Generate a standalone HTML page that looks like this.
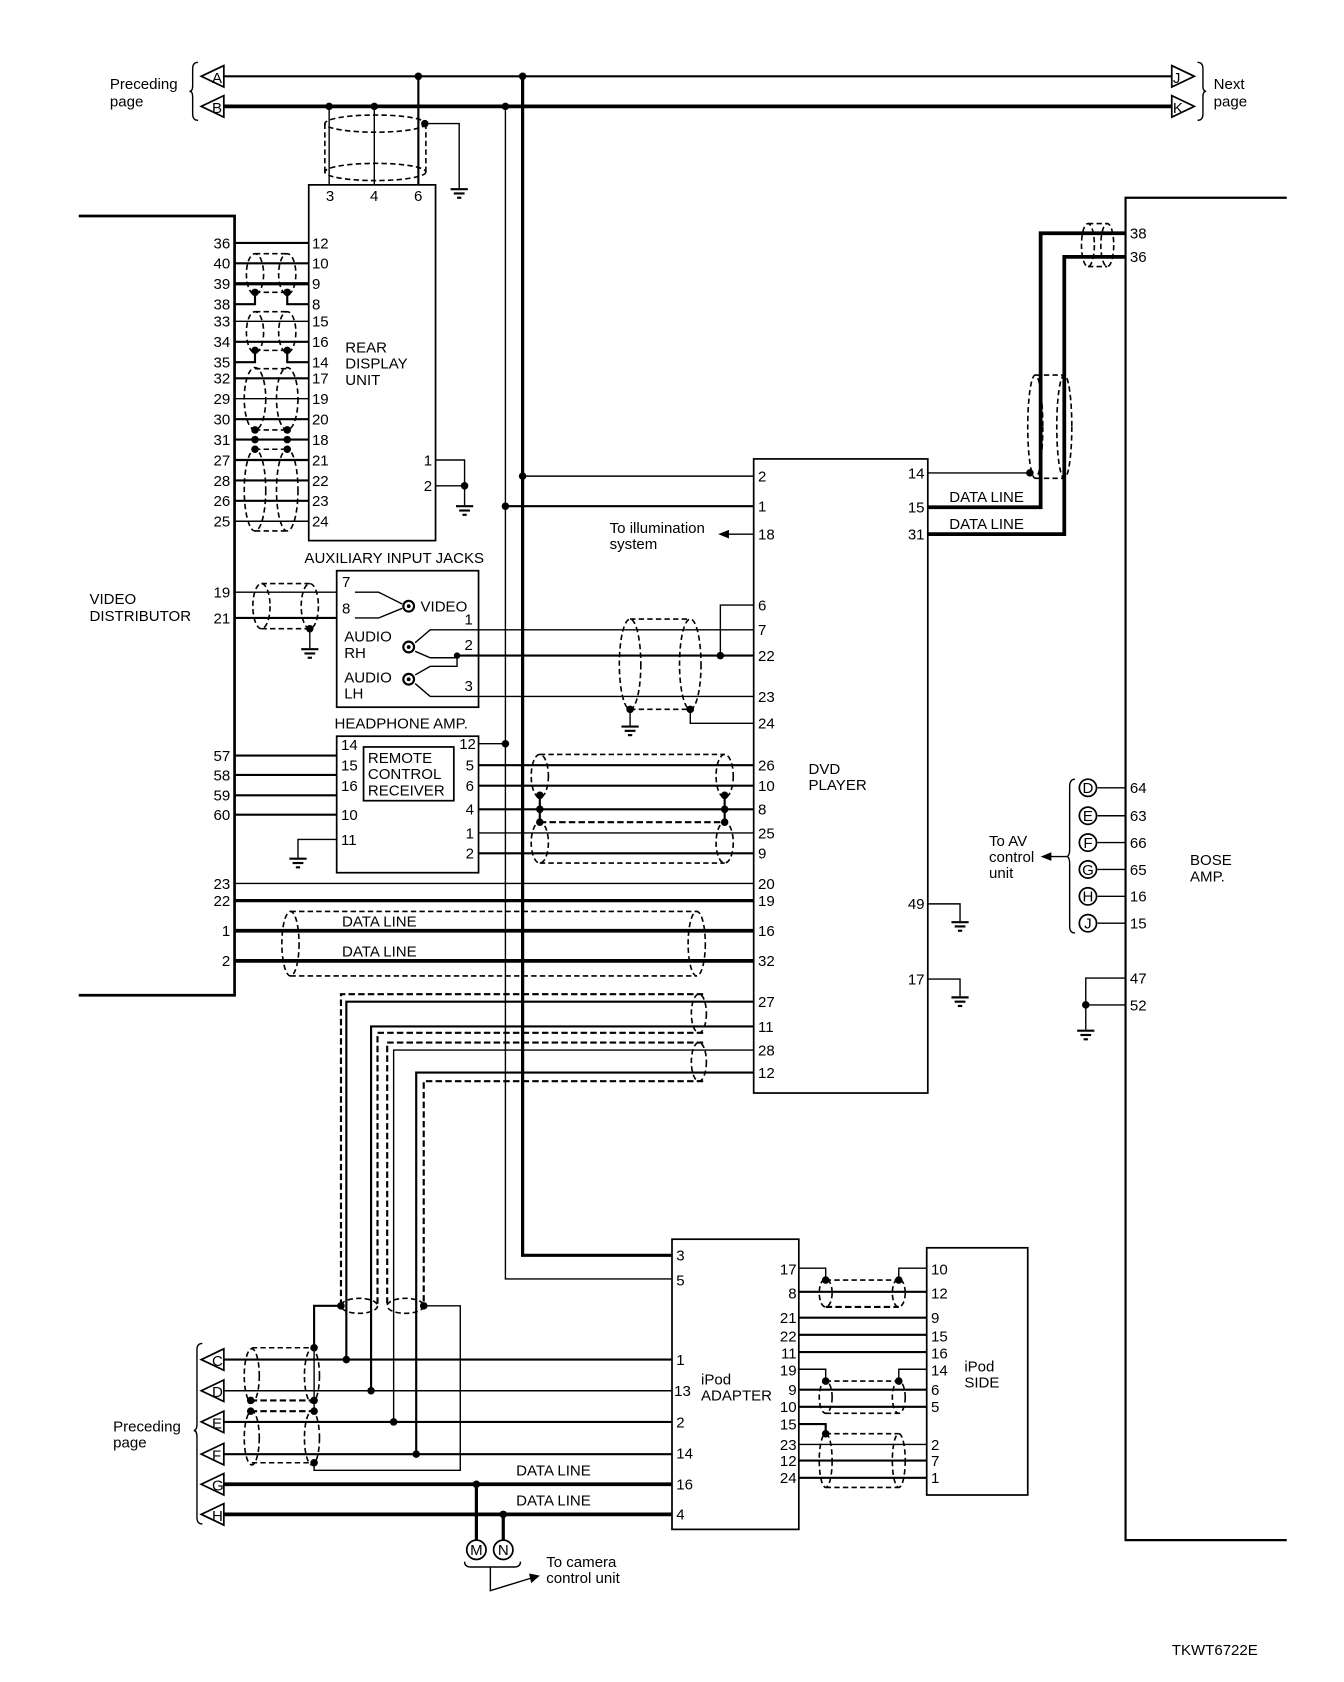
<!DOCTYPE html>
<html><head><meta charset="utf-8"><style>
html,body{margin:0;padding:0;background:#fff}
svg{display:block}
text{font-family:"Liberation Sans",Arial,sans-serif;font-size:14px;fill:#000}
.t{stroke:#000;stroke-width:1.3;fill:none}
.m{stroke:#000;stroke-width:2;fill:none}
.k{stroke:#000;stroke-width:3.5;fill:none}
.d{stroke:#000;stroke-width:1.5;fill:none;stroke-dasharray:5,3}
.dd{stroke:#000;stroke-width:2;fill:none;stroke-dasharray:6,3}
.b{stroke:#000;stroke-width:1.6;fill:#fff}
</style></head><body>
<svg width="1344" height="1682" viewBox="0 0 1250 1565" xmlns="http://www.w3.org/2000/svg">
<defs>
<g id="gnd"><line x1="-8" y1="0" x2="8" y2="0" class="m"/><line x1="-5" y1="4" x2="5" y2="4" class="m"/><line x1="-2" y1="8" x2="2" y2="8" class="m"/></g>
</defs>

<!-- top buses -->
<line x1="208" y1="71" x2="1090" y2="71" class="m"/>
<line x1="208" y1="99" x2="1090" y2="99" class="k"/>
<path d="M208,61 L187,71 L208,81 Z" class="b"/><text x="197" y="77" font-size="13">A</text>
<path d="M208,89 L187,99 L208,109 Z" class="b"/><text x="197" y="105" font-size="13">B</text>
<path d="M184,58 Q179,58 179,64 L179,80 Q179,85 176,85 Q179,85 179,90 L179,106 Q179,112 184,112" class="t"/>
<text x="102" y="83">Preceding</text><text x="102" y="99">page</text>
<path d="M1090,61 L1111,71 L1090,81 Z" class="b"/><text x="1091" y="77" font-size="13">J</text>
<path d="M1090,89 L1111,99 L1090,109 Z" class="b"/><text x="1091" y="105" font-size="13">K</text>
<path d="M1114,58 Q1119,58 1119,64 L1119,80 Q1119,85 1122,85 Q1119,85 1119,90 L1119,106 Q1119,112 1114,112" class="t"/>
<text x="1129" y="83">Next</text><text x="1129" y="99">page</text>

<!-- drops to rear display -->
<line x1="306" y1="99" x2="306" y2="172" class="t"/>
<line x1="348" y1="99" x2="348" y2="172" class="t"/>
<line x1="389" y1="71" x2="389" y2="172" class="m"/>
<circle cx="306" cy="99" r="3.5"/><circle cx="348" cy="99" r="3.5"/><circle cx="389" cy="71" r="3.5"/>
<ellipse cx="349" cy="115" rx="47" ry="8" class="d"/>
<ellipse cx="349" cy="160" rx="47" ry="8" class="d"/>
<line x1="302" y1="115" x2="302" y2="160" class="d"/><line x1="396" y1="115" x2="396" y2="160" class="d"/>
<circle cx="395" cy="115" r="3.5"/>
<polyline points="395,115 427,115 427,175" class="t"/>
<use href="#gnd" x="427" y="176"/>

<!-- long verticals -->
<polyline points="486,71 486,1168 625,1168" class="k" style="stroke-width:3"/>
<circle cx="486" cy="71" r="3.5"/>
<polyline points="470,99 470,1190 625,1190" class="t"/>
<circle cx="470" cy="99" r="3.5"/>
<line x1="486" y1="443" x2="701" y2="443" class="t"/><circle cx="486" cy="443" r="3.5"/>
<line x1="470" y1="471" x2="701" y2="471" class="m"/><circle cx="470" cy="471" r="3.5"/>

<!-- video distributor -->
<polyline points="73,201 218,201 218,926 73,926" class="k" style="stroke-width:2.5"/>
<text x="83" y="562">VIDEO</text><text x="83" y="578">DISTRIBUTOR</text>

<!-- rear display unit -->
<rect x="287" y="172" width="118" height="331" class="b"/>
<text x="303" y="187">3</text><text x="344" y="187">4</text><text x="385" y="187">6</text>
<text x="321" y="328">REAR</text><text x="321" y="343">DISPLAY</text><text x="321" y="358">UNIT</text>
<g text-anchor="end">
<text x="214" y="231">36</text><text x="214" y="250">40</text><text x="214" y="269">39</text><text x="214" y="288">38</text>
<text x="214" y="304">33</text><text x="214" y="323">34</text><text x="214" y="342">35</text><text x="214" y="357">32</text>
<text x="214" y="376">29</text><text x="214" y="395">30</text><text x="214" y="414">31</text><text x="214" y="433">27</text>
<text x="214" y="452">28</text><text x="214" y="471">26</text><text x="214" y="490">25</text>
</g>
<g>
<text x="290" y="231">12</text><text x="290" y="250">10</text><text x="290" y="269">9</text><text x="290" y="288">8</text>
<text x="290" y="304">15</text><text x="290" y="323">16</text><text x="290" y="342">14</text><text x="290" y="357">17</text>
<text x="290" y="376">19</text><text x="290" y="395">20</text><text x="290" y="414">18</text><text x="290" y="433">21</text>
<text x="290" y="452">22</text><text x="290" y="471">23</text><text x="290" y="490">24</text>
</g>
<line x1="218" y1="226" x2="287" y2="226" class="m"/>
<line x1="218" y1="245" x2="287" y2="245" class="m"/>
<line x1="218" y1="264" x2="287" y2="264" class="k" style="stroke-width:3"/>
<polyline points="218,283 237,283 237,272" class="m"/><polyline points="287,283 267,283 267,272" class="m"/>
<line x1="218" y1="299" x2="287" y2="299" class="t"/>
<line x1="218" y1="318" x2="287" y2="318" class="m"/>
<polyline points="218,337 237,337 237,326" class="m"/><polyline points="287,337 267,337 267,326" class="m"/>
<line x1="218" y1="352" x2="287" y2="352" class="m"/>
<line x1="218" y1="371" x2="287" y2="371" class="t"/>
<line x1="218" y1="390" x2="287" y2="390" class="m"/>
<line x1="218" y1="409" x2="287" y2="409" class="m"/>
<line x1="218" y1="428" x2="287" y2="428" class="m"/>
<line x1="218" y1="447" x2="287" y2="447" class="m"/>
<line x1="218" y1="466" x2="287" y2="466" class="m"/>
<line x1="218" y1="485" x2="287" y2="485" class="t"/>
<ellipse cx="237" cy="255" rx="8" ry="19" class="d"/><ellipse cx="267" cy="255" rx="8" ry="19" class="d"/>
<line x1="237" y1="236" x2="267" y2="236" class="d"/><line x1="237" y1="272" x2="267" y2="272" class="d"/>
<ellipse cx="237" cy="309" rx="8" ry="19" class="d"/><ellipse cx="267" cy="309" rx="8" ry="19" class="d"/>
<line x1="237" y1="290" x2="267" y2="290" class="d"/><line x1="237" y1="326" x2="267" y2="326" class="d"/>
<ellipse cx="237" cy="371" rx="10" ry="29" class="d"/><ellipse cx="267" cy="371" rx="10" ry="29" class="d"/>
<line x1="237" y1="343" x2="267" y2="343" class="d"/><line x1="237" y1="400" x2="267" y2="400" class="d"/>
<ellipse cx="237" cy="456" rx="10" ry="38" class="d"/><ellipse cx="267" cy="456" rx="10" ry="38" class="d"/>
<line x1="237" y1="418" x2="267" y2="418" class="d"/><line x1="237" y1="494" x2="267" y2="494" class="d"/>
<g>
<circle cx="237" cy="272" r="3.5"/><circle cx="267" cy="272" r="3.5"/>
<circle cx="237" cy="326" r="3.5"/><circle cx="267" cy="326" r="3.5"/>
<circle cx="237" cy="400" r="3.5"/><circle cx="267" cy="400" r="3.5"/>
<circle cx="237" cy="409" r="3.5"/><circle cx="267" cy="409" r="3.5"/>
<circle cx="237" cy="418" r="3.5"/><circle cx="267" cy="418" r="3.5"/>
</g>
<text x="394" y="433">1</text><text x="394" y="457">2</text>
<polyline points="405,428 432,428 432,470" class="t"/><line x1="405" y1="452" x2="432" y2="452" class="t"/>
<circle cx="432" cy="452" r="3.5"/><use href="#gnd" x="432" y="471"/>

<!-- aux input jacks -->
<text x="283" y="524">AUXILIARY INPUT JACKS</text>
<rect x="313" y="531" width="132" height="127" class="b"/>
<text x="318" y="546">7</text><text x="318" y="571">8</text>
<polyline points="330,551 352,551 374,562" class="t"/><polyline points="330,575 352,575 374,566" class="t"/>
<circle cx="380" cy="564" r="5" class="m"/><circle cx="380" cy="564" r="1.8"/>
<text x="391" y="569">VIDEO</text>
<text x="320" y="597">AUDIO</text><text x="320" y="612">RH</text>
<circle cx="380" cy="602" r="5" class="m"/><circle cx="380" cy="602" r="1.8"/>
<text x="320" y="635">AUDIO</text><text x="320" y="650">LH</text>
<circle cx="380" cy="632" r="5" class="m"/><circle cx="380" cy="632" r="1.8"/>
<text x="432" y="581">1</text><text x="432" y="605">2</text><text x="432" y="643">3</text>
<polyline points="386,598 400,586 445,586" class="t"/>
<polyline points="386,606 400,612 425,612 425,610" class="t"/>
<polyline points="386,628 400,620 425,620 425,610" class="t"/>
<circle cx="425" cy="610" r="3"/>
<polyline points="386,636 400,648 445,648" class="t"/>
<line x1="445" y1="586" x2="701" y2="586" class="t"/>
<line x1="425" y1="610" x2="701" y2="610" class="m"/>
<line x1="445" y1="648" x2="701" y2="648" class="t"/>
<polyline points="701,563 670,563 670,610" class="t"/><circle cx="670" cy="610" r="3.5"/>
<polyline points="701,673 642,673 642,660" class="t"/>
<ellipse cx="586" cy="618" rx="10" ry="42" class="d"/><ellipse cx="642" cy="618" rx="10" ry="42" class="d"/>
<line x1="586" y1="576" x2="642" y2="576" class="d"/><line x1="586" y1="660" x2="642" y2="660" class="d"/>
<circle cx="586" cy="660" r="3.5"/><circle cx="642" cy="660" r="3.5"/>
<line x1="586" y1="660" x2="586" y2="675" class="t"/><use href="#gnd" x="586" y="676"/>
<!-- 19 / 21 -->
<g text-anchor="end"><text x="214" y="556">19</text><text x="214" y="580">21</text></g>
<line x1="218" y1="551" x2="313" y2="551" class="t"/><line x1="218" y1="575" x2="313" y2="575" class="m"/>
<ellipse cx="243" cy="564" rx="8" ry="21" class="d"/><ellipse cx="288" cy="564" rx="8" ry="21" class="d"/>
<line x1="243" y1="543" x2="288" y2="543" class="d"/><line x1="243" y1="585" x2="288" y2="585" class="d"/>
<circle cx="288" cy="585" r="3.5"/><line x1="288" y1="585" x2="288" y2="603" class="t"/><use href="#gnd" x="288" y="604"/>

<!-- headphone amp -->
<text x="311" y="678">HEADPHONE AMP.</text>
<rect x="313" y="685" width="132" height="127" class="b"/>
<rect x="338" y="695" width="84" height="50" class="b"/>
<text x="342" y="710">REMOTE</text><text x="342" y="725">CONTROL</text><text x="342" y="740">RECEIVER</text>
<text x="317" y="698">14</text><text x="317" y="717">15</text><text x="317" y="736">16</text><text x="317" y="763">10</text><text x="317" y="786">11</text>
<g text-anchor="end"><text x="214" y="708">57</text><text x="214" y="726">58</text><text x="214" y="745">59</text><text x="214" y="763">60</text></g>
<line x1="218" y1="703" x2="313" y2="703" class="m"/><line x1="218" y1="721" x2="313" y2="721" class="m"/>
<line x1="218" y1="740" x2="313" y2="740" class="m"/><line x1="218" y1="758" x2="313" y2="758" class="m"/>
<polyline points="313,781 277,781 277,798" class="t"/><use href="#gnd" x="277" y="799"/>
<text x="427" y="697">12</text><text x="433" y="717">5</text><text x="433" y="736">6</text><text x="433" y="758">4</text><text x="433" y="780">1</text><text x="433" y="799">2</text>
<line x1="445" y1="692" x2="470" y2="692" class="t"/><circle cx="470" cy="692" r="3.5"/>
<line x1="445" y1="712" x2="701" y2="712" class="m"/>
<line x1="445" y1="731" x2="701" y2="731" class="m"/>
<line x1="445" y1="753" x2="701" y2="753" class="m"/>
<line x1="445" y1="775" x2="701" y2="775" class="t"/>
<line x1="445" y1="794" x2="701" y2="794" class="m"/>
<ellipse cx="502" cy="722" rx="8" ry="20" class="d"/><ellipse cx="674" cy="722" rx="8" ry="20" class="d"/>
<line x1="502" y1="702" x2="674" y2="702" class="d"/>
<ellipse cx="502" cy="784" rx="8" ry="19" class="d"/><ellipse cx="674" cy="784" rx="8" ry="19" class="d"/>
<line x1="502" y1="803" x2="674" y2="803" class="d"/>
<line x1="502" y1="765" x2="674" y2="765" class="dd"/>
<polyline points="502,740 502,765" class="m"/><polyline points="674,740 674,765" class="m"/>
<circle cx="502" cy="740" r="3.5"/><circle cx="674" cy="740" r="3.5"/>
<circle cx="502" cy="753" r="3.5"/><circle cx="674" cy="753" r="3.5"/>
<circle cx="502" cy="765" r="3.5"/><circle cx="674" cy="765" r="3.5"/>

<!-- data lines from video distributor -->
<g text-anchor="end"><text x="214" y="827">23</text><text x="214" y="843">22</text><text x="214" y="871">1</text><text x="214" y="899">2</text></g>
<line x1="218" y1="822" x2="701" y2="822" class="t"/>
<line x1="218" y1="838" x2="701" y2="838" class="k" style="stroke-width:3"/>
<line x1="218" y1="866" x2="701" y2="866" class="k"/>
<line x1="218" y1="894" x2="701" y2="894" class="k"/>
<text x="318" y="862">DATA LINE</text><text x="318" y="890">DATA LINE</text>
<ellipse cx="270" cy="878" rx="8" ry="30" class="d"/><ellipse cx="648" cy="878" rx="8" ry="30" class="d"/>
<line x1="270" y1="848" x2="648" y2="848" class="d"/><line x1="270" y1="908" x2="648" y2="908" class="d"/>

<!-- DVD player -->
<rect x="701" y="427" width="162" height="590" class="b"/>
<text x="752" y="720">DVD</text><text x="752" y="735">PLAYER</text>
<g>
<text x="705" y="448">2</text><text x="705" y="476">1</text><text x="705" y="502">18</text>
<text x="705" y="568">6</text><text x="705" y="591">7</text><text x="705" y="615">22</text>
<text x="705" y="653">23</text><text x="705" y="678">24</text><text x="705" y="717">26</text>
<text x="705" y="736">10</text><text x="705" y="758">8</text><text x="705" y="780">25</text>
<text x="705" y="799">9</text><text x="705" y="827">20</text><text x="705" y="843">19</text>
<text x="705" y="871">16</text><text x="705" y="899">32</text><text x="705" y="937">27</text>
<text x="705" y="960">11</text><text x="705" y="982">28</text><text x="705" y="1003">12</text>
</g>
<g text-anchor="end">
<text x="860" y="445">14</text><text x="860" y="477">15</text><text x="860" y="502">31</text>
<text x="860" y="846">49</text><text x="860" y="916">17</text>
</g>
<text x="567" y="496">To illumination</text><text x="567" y="511">system</text>
<line x1="701" y1="497" x2="676" y2="497" class="t"/><path d="M668,497 L678,493 L678,501 Z"/>

<polyline points="863,841 893,841 893,857" class="t"/><use href="#gnd" x="893" y="858"/>
<polyline points="863,911 893,911 893,927" class="t"/><use href="#gnd" x="893" y="928"/>

<!-- DVD to Bose -->
<line x1="863" y1="440" x2="958" y2="440" class="t"/><circle cx="958" cy="440" r="3.5"/>
<polyline points="863,472 968,472 968,217 1047,217" class="k"/>
<polyline points="863,497 990,497 990,239 1047,239" class="k"/>
<text x="883" y="467">DATA LINE</text><text x="883" y="492">DATA LINE</text>
<ellipse cx="963" cy="397" rx="7" ry="48" class="d"/><ellipse cx="990" cy="397" rx="7" ry="48" class="d"/>
<line x1="963" y1="349" x2="990" y2="349" class="d"/><line x1="963" y1="445" x2="990" y2="445" class="d"/>
<ellipse cx="1012" cy="228" rx="6" ry="20" class="d"/><ellipse cx="1030" cy="228" rx="6" ry="20" class="d"/>
<line x1="1012" y1="208" x2="1030" y2="208" class="d"/><line x1="1012" y1="248" x2="1030" y2="248" class="d"/>

<!-- Bose amp -->
<polyline points="1197,184 1047,184 1047,1433 1197,1433" class="m"/>
<text x="1107" y="805">BOSE</text><text x="1107" y="820">AMP.</text>
<g>
<text x="1051" y="222">38</text><text x="1051" y="244">36</text>
<text x="1051" y="738">64</text><text x="1051" y="764">63</text><text x="1051" y="789">66</text>
<text x="1051" y="814">65</text><text x="1051" y="839">16</text><text x="1051" y="864">15</text>
<text x="1051" y="915">47</text><text x="1051" y="940">52</text>
</g>
<g text-anchor="middle" font-size="12">
<line x1="1021" y1="733" x2="1047" y2="733" class="t"/><circle cx="1012" cy="733" r="8" class="b"/><text x="1012" y="738" font-size="12">D</text>
<line x1="1021" y1="759" x2="1047" y2="759" class="t"/><circle cx="1012" cy="759" r="8" class="b"/><text x="1012" y="764" font-size="12">E</text>
<line x1="1021" y1="784" x2="1047" y2="784" class="t"/><circle cx="1012" cy="784" r="8" class="b"/><text x="1012" y="789" font-size="12">F</text>
<line x1="1021" y1="809" x2="1047" y2="809" class="t"/><circle cx="1012" cy="809" r="8" class="b"/><text x="1012" y="814" font-size="12">G</text>
<line x1="1021" y1="834" x2="1047" y2="834" class="t"/><circle cx="1012" cy="834" r="8" class="b"/><text x="1012" y="839" font-size="12">H</text>
<line x1="1021" y1="859" x2="1047" y2="859" class="t"/><circle cx="1012" cy="859" r="8" class="b"/><text x="1012" y="864" font-size="12">J</text>
</g>
<path d="M1000,725 Q995,725 995,732 L995,790 Q995,797 992,797 Q995,797 995,804 L995,862 Q995,868 1000,868" class="t"/>
<line x1="992" y1="797" x2="975" y2="797" class="t"/><path d="M968,797 L978,793 L978,801 Z"/>
<text x="920" y="787">To AV</text><text x="920" y="802">control</text><text x="920" y="817">unit</text>
<polyline points="1047,910 1010,910 1010,958" class="t"/><line x1="1010" y1="935" x2="1047" y2="935" class="t"/>
<circle cx="1010" cy="935" r="3.5"/><use href="#gnd" x="1010" y="959"/>

<!-- DVD 27/11/28/12 shielded runs -->
<polyline points="701,932 322,932 322,1265" class="m"/>
<polyline points="701,955 345,955 345,1294" class="m"/>
<polyline points="701,977 366,977 366,1323" class="t"/>
<polyline points="701,998 387,998 387,1353" class="m"/>
<polyline points="654,925 317,925 317,1215" class="dd"/>
<polyline points="654,961 351,961 351,1215" class="dd"/>
<polyline points="654,970 360,970 360,1215" class="dd"/>
<polyline points="654,1006 394,1006 394,1215" class="dd"/>
<ellipse cx="650" cy="943" rx="7" ry="18" class="d"/>
<ellipse cx="650" cy="988" rx="7" ry="18" class="d"/>
<ellipse cx="334" cy="1215" rx="17" ry="7" class="d"/>
<ellipse cx="377" cy="1215" rx="17" ry="7" class="d"/>
<polyline points="317,1215 292,1215 292,1254" class="m"/>
<polyline points="394,1215 428,1215 428,1368 292,1368 292,1361" class="t"/>
<circle cx="317" cy="1215" r="3.5"/><circle cx="394" cy="1215" r="3.5"/>

<!-- bottom left connectors -->
<g font-size="13">
<path d="M208,1255 L187,1265 L208,1275 Z" class="b"/><text x="197" y="1271">C</text>
<path d="M208,1284 L187,1294 L208,1304 Z" class="b"/><text x="197" y="1300">D</text>
<path d="M208,1313 L187,1323 L208,1333 Z" class="b"/><text x="197" y="1329">E</text>
<path d="M208,1343 L187,1353 L208,1363 Z" class="b"/><text x="197" y="1359">F</text>
<path d="M208,1371 L187,1381 L208,1391 Z" class="b"/><text x="197" y="1387">G</text>
<path d="M208,1399 L187,1409 L208,1419 Z" class="b"/><text x="197" y="1415">H</text>
</g>
<path d="M188,1250 Q183,1250 183,1256 L183,1325 Q183,1331 180,1331 Q183,1331 183,1337 L183,1412 Q183,1418 188,1418" class="t"/>
<text x="105" y="1332">Preceding</text><text x="105" y="1347">page</text>
<line x1="208" y1="1265" x2="625" y2="1265" class="m"/>
<line x1="208" y1="1294" x2="625" y2="1294" class="t"/>
<line x1="208" y1="1323" x2="625" y2="1323" class="m"/>
<line x1="208" y1="1353" x2="625" y2="1353" class="m"/>
<line x1="208" y1="1381" x2="625" y2="1381" class="k"/>
<line x1="208" y1="1409" x2="625" y2="1409" class="k"/>
<text x="480" y="1373">DATA LINE</text><text x="480" y="1401">DATA LINE</text>
<circle cx="322" cy="1265" r="3.5"/><circle cx="345" cy="1294" r="3.5"/><circle cx="366" cy="1323" r="3.5"/><circle cx="387" cy="1353" r="3.5"/>
<ellipse cx="234" cy="1280" rx="7" ry="25" class="d"/><ellipse cx="290" cy="1280" rx="7" ry="25" class="d"/>
<ellipse cx="234" cy="1338" rx="7" ry="25" class="d"/><ellipse cx="290" cy="1338" rx="7" ry="25" class="d"/>
<line x1="234" y1="1254" x2="292" y2="1254" class="d"/><line x1="233" y1="1303" x2="292" y2="1303" class="dd"/>
<line x1="233" y1="1313" x2="292" y2="1313" class="dd"/><line x1="234" y1="1361" x2="292" y2="1361" class="d"/>
<line x1="292" y1="1254" x2="292" y2="1313" class="t"/>
<circle cx="292" cy="1254" r="3.5"/><circle cx="292" cy="1303" r="3.5"/><circle cx="292" cy="1313" r="3.5"/><circle cx="292" cy="1361" r="3.5"/>
<circle cx="233" cy="1303" r="3.5"/><circle cx="233" cy="1313" r="3.5"/>
<!-- M N -->
<circle cx="443" cy="1381" r="3.5"/><circle cx="468" cy="1409" r="3.5"/>
<line x1="443" y1="1381" x2="443" y2="1433" class="k" style="stroke-width:3"/>
<line x1="468" y1="1409" x2="468" y2="1433" class="k" style="stroke-width:3"/>
<circle cx="443" cy="1442" r="9" class="b"/><text x="443" y="1447" text-anchor="middle" font-size="12">M</text>
<circle cx="468" cy="1442" r="9" class="b"/><text x="468" y="1447" text-anchor="middle" font-size="12">N</text>
<path d="M432,1453 Q432,1458 438,1458 L478,1458 Q484,1458 484,1453" class="t"/>
<polyline points="456,1458 456,1480 495,1468" class="t"/><path d="M502,1466 L492,1464 L494,1473 Z"/>
<text x="508" y="1458">To camera</text><text x="508" y="1473">control unit</text>

<!-- iPod adapter -->
<rect x="625" y="1153" width="118" height="270" class="b"/>
<text x="652" y="1288">iPod</text><text x="652" y="1303">ADAPTER</text>
<text x="629" y="1173">3</text><text x="629" y="1196">5</text><text x="629" y="1270">1</text><text x="627" y="1299">13</text>
<text x="629" y="1328">2</text><text x="629" y="1357">14</text><text x="629" y="1386">16</text><text x="629" y="1414">4</text>
<g text-anchor="end">
<text x="741" y="1186">17</text><text x="741" y="1208">8</text><text x="741" y="1231">21</text><text x="741" y="1248">22</text>
<text x="741" y="1264">11</text><text x="741" y="1280">19</text><text x="741" y="1298">9</text><text x="741" y="1314">10</text>
<text x="741" y="1330">15</text><text x="741" y="1349">23</text><text x="741" y="1364">12</text><text x="741" y="1380">24</text>
</g>
<!-- iPod side -->
<rect x="862" y="1161" width="94" height="230" class="b"/>
<text x="897" y="1276">iPod</text><text x="897" y="1291">SIDE</text>
<g>
<text x="866" y="1186">10</text><text x="866" y="1208">12</text><text x="866" y="1231">9</text><text x="866" y="1248">15</text>
<text x="866" y="1264">16</text><text x="866" y="1280">14</text><text x="866" y="1298">6</text><text x="866" y="1314">5</text>
<text x="866" y="1349">2</text><text x="866" y="1364">7</text><text x="866" y="1380">1</text>
</g>
<polyline points="743,1180 768,1180 768,1191" class="t"/><polyline points="862,1180 836,1180 836,1191" class="t"/>
<line x1="743" y1="1202" x2="862" y2="1202" class="m"/>
<ellipse cx="768" cy="1203" rx="6" ry="13" class="d"/><ellipse cx="836" cy="1203" rx="6" ry="13" class="d"/>
<line x1="768" y1="1191" x2="836" y2="1191" class="d"/><line x1="768" y1="1216" x2="836" y2="1216" class="dd"/>
<circle cx="768" cy="1191" r="3.5"/><circle cx="836" cy="1191" r="3.5"/>
<line x1="743" y1="1226" x2="862" y2="1226" class="m"/>
<line x1="743" y1="1242" x2="862" y2="1242" class="m"/>
<line x1="743" y1="1258" x2="862" y2="1258" class="m"/>
<polyline points="743,1274 768,1274 768,1285" class="t"/><polyline points="862,1274 836,1274 836,1285" class="t"/>
<line x1="743" y1="1293" x2="862" y2="1293" class="m"/>
<line x1="743" y1="1309" x2="862" y2="1309" class="m"/>
<ellipse cx="768" cy="1300" rx="6" ry="15" class="d"/><ellipse cx="836" cy="1300" rx="6" ry="15" class="d"/>
<line x1="768" y1="1285" x2="836" y2="1285" class="d"/><line x1="768" y1="1315" x2="836" y2="1315" class="d"/>
<circle cx="768" cy="1285" r="3.5"/><circle cx="836" cy="1285" r="3.5"/>
<polyline points="743,1325 768,1325 768,1334" class="m"/>
<line x1="743" y1="1344" x2="862" y2="1344" class="t"/>
<line x1="743" y1="1359" x2="862" y2="1359" class="m"/>
<line x1="743" y1="1375" x2="862" y2="1375" class="m"/>
<ellipse cx="768" cy="1359" rx="6" ry="25" class="d"/><ellipse cx="836" cy="1359" rx="6" ry="25" class="d"/>
<line x1="768" y1="1334" x2="836" y2="1334" class="d"/><line x1="768" y1="1384" x2="836" y2="1384" class="d"/>
<circle cx="768" cy="1334" r="3.5"/>

<text x="1090" y="1540" font-size="13">TKWT6722E</text>
</svg>
</body></html>
